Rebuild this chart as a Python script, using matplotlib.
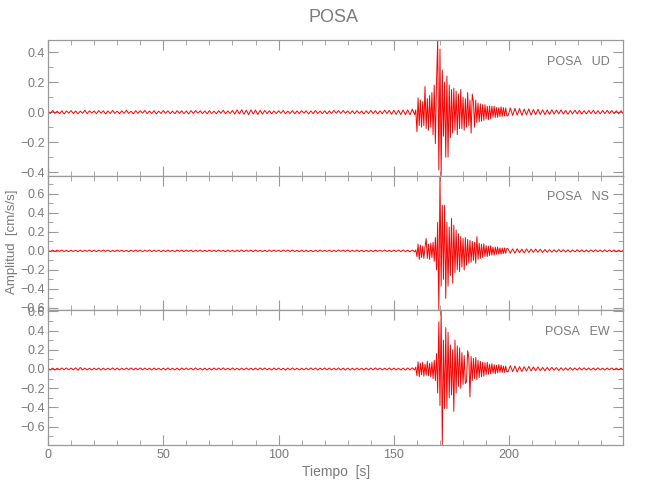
import numpy as np
import matplotlib
matplotlib.use('Agg')
import matplotlib.pyplot as plt
from matplotlib.ticker import MultipleLocator

plt.rcParams['font.family'] = ['Liberation Sans', 'DejaVu Sans']

station = 'POSA'
components = ['UD', 'NS', 'EW']

# amplitudes en milesimas de cm/s/s
# tramo previo: t = 0..159 s cada 1 s
ud_pre = [7, -9, 11, -8, 6, -10, 9, -12, 8, -7,
          10, -9, 8, -11, 7, -8, 12, -10, 9, -6,
          8, -11, 10, -7, 9, -12, 8, -9, 11, -8,
          7, -10, 9, -8, 12, -9, 6, -11, 10, -8,
          9, -7, 11, -10, 8, -9, 10, -12, 7, -9,
          11, -8, 9, -10, 7, -11, 10, -8, 9, -10,
          8, -12, 10, -9, 11, -7, 9, -10, 8, -11,
          10, -9, 7, -11, 9, -8, 12, -10, 8, -9,
          11, -13, 15, -12, 16, -14, 13, -17, 15, -12,
          14, -16, 12, -13, 11, -10, 9, -11, 8, -10,
          9, -8, 11, -10, 7, -9, 10, -11, 8, -9,
          10, -7, 9, -12, 8, -10, 11, -9, 7, -10,
          9, -11, 8, -9, 12, -8, 10, -9, 11, -7,
          8, -10, 9, -11, 10, -8, 7, -12, 9, -10,
          11, -9, 10, -12, 9, -11, 13, -10, 12, -14,
          13, -15, 12, -16, 14, -17, 15, -18, 20, -17]
ns_pre = [6, -8, 9, -7, 8, -6, 9, -8, 7, -9,
          8, -7, 6, -9, 8, -8, 7, -6, 9, -8,
          7, -9, 8, -6, 9, -7, 8, -9, 6, -8,
          9, -6, 7, -8, 6, -9, 8, -7, 9, -6,
          8, -9, 7, -6, 9, -8, 6, -7, 8, -9,
          7, -8, 9, -7, 6, -9, 8, -6, 7, -8,
          9, -7, 8, -9, 7, -6, 9, -8, 6, -7,
          8, -6, 7, -8, 9, -7, 6, -9, 8, -7,
          6, -9, 8, -7, 9, -8, 7, -6, 8, -9,
          9, -7, 6, -8, 7, -9, 8, -7, 9, -6,
          7, -8, 9, -6, 8, -7, 9, -8, 6, -9,
          8, -9, 7, -8, 6, -9, 7, -8, 9, -7,
          6, -7, 8, -9, 7, -8, 9, -6, 8, -7,
          9, -8, 6, -7, 9, -8, 7, -9, 6, -8,
          7, -9, 8, -6, 8, -7, 9, -8, 7, -9,
          8, -7, 9, -8, 10, -9, 8, -10, 9, -11]
ew_pre = [8, -10, 9, -11, 8, -9, 10, -8, 11, -9,
          10, -9, 12, -14, 16, -11, 9, -10, 8, -11,
          9, -8, 10, -11, 9, -10, 8, -9, 11, -10,
          10, -11, 8, -9, 10, -8, 11, -10, 9, -8,
          11, -9, 10, -8, 9, -11, 10, -9, 8, -10,
          9, -10, 11, -9, 8, -10, 9, -11, 10, -8,
          10, -8, 9, -10, 11, -9, 8, -10, 9, -11,
          8, -11, 10, -9, 10, -8, 11, -9, 8, -10,
          11, -9, 8, -10, 9, -11, 10, -8, 9, -10,
          9, -10, 11, -8, 10, -9, 8, -11, 10, -9,
          10, -9, 8, -11, 9, -10, 11, -9, 8, -10,
          8, -10, 9, -9, 11, -8, 10, -11, 9, -8,
          11, -8, 10, -10, 8, -9, 11, -10, 9, -11,
          9, -11, 8, -10, 10, -9, 8, -11, 10, -9,
          10, -9, 11, -8, 9, -10, 8, -9, 11, -10,
          9, -10, 8, -11, 10, -12, 11, -10, 12, -11]

# tramo activo: t = 159.5..199.0 s cada 0.5 s
ud_act = [15, -130, 95, -90, 80, -100, 70, -90, 170, -110,
          90, -120, 110, -100, 130, -150, 180, -210, 200, 480,
          -385, 420, -423, 280, -160, 200, -300, 240, -300, 180,
          -170, 150, -140, 160, -120, 140, -150, 120, -110, 150,
          -110, 100, -120, 90, -100, 130, -90, 80, -140, 120,
          70, -100, 80, -70, 60, -65, 55, -60, 50, -55,
          50, -45, 40, -50, 40, -45, 40, -35, 40, -35,
          30, -35, 30, -30, 35, -28, 30, -25, 28, -25]
ns_act = [10, -60, 70, -90, 60, -70, 50, -80, 40, 130,
          -80, 70, -90, 80, -70, 90, -110, 140, -200, 300,
          -625, 790, -370, 480, -300, 480, -500, 300, -370, 250,
          -260, 340, -340, 270, -230, 220, -200, 180, -220, 150,
          -170, 130, -200, 140, -150, 120, -130, 110, -120, 100,
          -100, 90, -130, 150, -90, 80, -80, 70, -70, 75,
          -60, 55, -60, 50, -50, 55, -45, 40, -45, 40,
          -35, 40, -35, 30, -35, 30, -28, 30, -25, 25]
ew_act = [20, -70, 75, -80, 60, -60, 70, -75, 50, -65,
          80, -70, 60, -80, 70, -100, 90, -120, 160, -250,
          490, -380, 610, -790, 300, -410, 430, -410, 380, -300,
          250, -270, 200, -440, 300, -250, 240, -180, 220, -200,
          170, -160, 140, -150, -130, 190, 120, -290, 130, -120,
          110, -100, 120, -110, 90, -90, 80, -80, 70, -75,
          65, -60, 70, -55, 50, -50, 55, -45, 45, -50,
          40, -40, 45, -35, 40, -35, 30, -35, 30, -28]

# coda: t = 199.5..249.5 s cada 1 s
ud_coda = [-25, 28, -22, 25, -20, 24, -22, 20, -18, 22,
           -20, 18, -17, 19, -16, 15, -17, 14, -15, 16,
           -13, 14, -12, 15, -13, 12, -14, 11, -12, 13,
           -11, 12, -13, 10, -12, 11, -10, 12, -11, 10,
           -12, 11, -10, 12, -9, 11, -10, 9, -11, 10, -11]
ns_coda = [22, -25, 20, -24, 22, -20, 18, -22, 20, -17,
           18, -16, 19, -15, 16, -17, 14, -15, 13, -14,
           12, -13, 14, -11, 12, -12, 11, -13, 10, -11,
           12, -10, 11, -12, 9, -11, 10, -9, 11, -10,
           9, -10, 11, -9, 10, -8, 9, -10, 8, -9, 8]
ew_coda = [-30, 35, -28, 30, -32, 25, -27, 24, -22, 26,
           -20, 22, -19, 21, -18, 17, -19, 16, -15, 17,
           -14, 15, -16, 13, -14, 12, -13, 14, -12, 11,
           -12, 13, -11, 12, -10, 11, -12, 10, -11, 12,
           -10, 9, -11, 10, -9, 11, -10, 9, -10, 9, -10]

traces = {
    'UD': (ud_pre, ud_act, ud_coda),
    'NS': (ns_pre, ns_act, ns_coda),
    'EW': (ew_pre, ew_act, ew_coda),
}

gray = '#999999'
txt = '#7a7a7a'


def build(pre, act, coda):
    t_pre = 1.0 * np.arange(len(pre))
    t_act = 159.5 + 0.5 * np.arange(len(act))
    t_coda = 199.5 + np.arange(len(coda))
    t = np.concatenate([t_pre, t_act, t_coda])
    v = np.concatenate([pre, act, coda]) / 1000.0
    return t, v


fig = plt.figure(figsize=(6.5, 5), dpi=100)
left, width = 48 / 650, 575.3 / 650
tops = [40, 175.7, 310.3, 445]

axes = []
for i, comp in enumerate(components):
    y0 = 1 - tops[i + 1] / 500
    h = (tops[i + 1] - tops[i]) / 500
    ax = fig.add_axes([left, y0, width, h])
    t, v = build(*traces[comp])
    ax.plot(t, v, color='red', lw=0.7)
    ax.set_xlim(0, 249.5)
    ax.set_ylim(v.min(), v.max())
    ax.xaxis.set_major_locator(MultipleLocator(50))
    ax.xaxis.set_minor_locator(MultipleLocator(10))
    ax.yaxis.set_major_locator(MultipleLocator(0.2))
    ax.yaxis.set_minor_locator(MultipleLocator(0.1))
    ax.yaxis.set_major_formatter(plt.FuncFormatter(lambda y, p: f'{y:.1f}'.replace('-', '\u2212')))
    ax.tick_params(which='both', direction='in', top=True, right=True,
                   color=gray, labelcolor=txt, labelsize=9, pad=3)
    ax.tick_params(axis='y', pad=2)
    ax.tick_params(which='major', length=7)
    ax.tick_params(which='minor', length=3.5)
    for s in ax.spines.values():
        s.set_color(gray)
        s.set_linewidth(0.9)
    if i < 2:
        ax.tick_params(labelbottom=False)
    ax.text(0.976, 0.84, f'{station}   {comp}', transform=ax.transAxes,
            ha='right', va='center', color=txt, fontsize=9)
    axes.append(ax)

axes[-1].set_xlabel('Tiempo  [s]', color=txt, fontsize=10, labelpad=3)
fig.text(333 / 650, 1 - 18 / 500, station, ha='center', va='center',
         color=txt, fontsize=13)
fig.text(12 / 650, 1 - 242 / 500, 'Amplitud  [cm/s/s]', rotation=90,
         ha='center', va='center', color=txt, fontsize=9.5)

fig.savefig('out.png', dpi=100)
